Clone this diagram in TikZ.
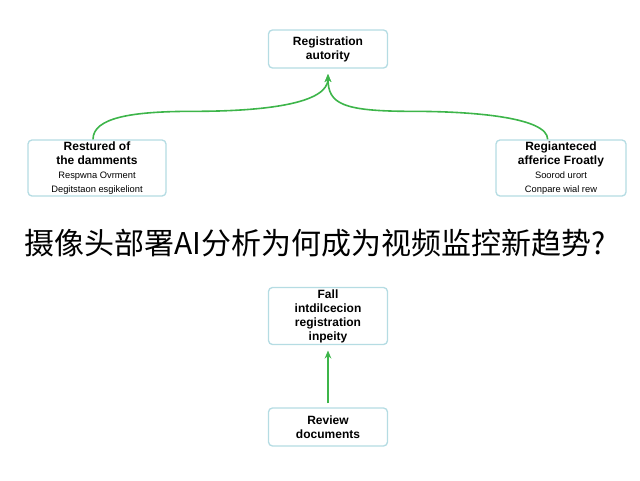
\documentclass[tikz,border=0pt]{standalone}
\usepackage{fontspec}
\setmainfont{Liberation Sans}
\newfontfamily\cjk{Noto Sans CJK SC}
\usetikzlibrary{arrows.meta}
\definecolor{bd}{HTML}{B5DCE3}
\definecolor{gr}{HTML}{3DB54A}
\newcommand{\subtxt}{\fontsize{7}{8.5}\selectfont\mdseries}
\begin{document}
\begin{tikzpicture}[x=0.75pt,y=-0.75pt,
 box/.style={draw=bd,line width=1pt,rounded corners=3pt,fill=white,align=center,inner sep=0pt,font=\fontsize{9}{10.5}\selectfont\bfseries},
 con/.style={draw=gr,line width=1.2pt,-{Stealth[length=6pt,width=5pt]}}]
\useasboundingbox (0,0) rectangle (640,480);
\node[box,minimum width=119*0.75pt,minimum height=38*0.75pt] (top) at (328,49) {Registration\\autority};
\node[box,minimum width=138*0.75pt,minimum height=56*0.75pt] (left) at (97,168) {Restured of\\the damments\\\subtxt Respwna Ovrment\\\subtxt Degitstaon esgikeliont};
\node[box,minimum width=130*0.75pt,minimum height=56*0.75pt] (right) at (561,168) {Regianteced\\afferice Froatly\\\subtxt Soorod urort\\\subtxt Conpare wial rew};
\node[font=\cjk\fontsize{22.5}{25}\selectfont] (title) at (315,243) {摄像头部署AI分析为何成为视频监控新趋势?};
\node[box,minimum width=119*0.75pt,minimum height=57*0.75pt] (mid) at (328,316) {Fall\\intdilcecion\\registration\\inpeity};
\node[box,minimum width=119*0.75pt,minimum height=38*0.75pt] (rev) at (328,427) {Review\\documents};
\draw[con] ([xshift=-3pt]left.north) .. controls +(0,-22) and +(-60,0) .. ++(100,-28) .. controls +(70,0) and +(0,30) .. ([yshift=-4pt]top.south);
\draw[con] ([xshift=-10pt]right.north) .. controls +(0,-22) and +(60,0) .. ++(-135,-28) .. controls +(-70,0) and +(0,30) .. ([yshift=-4pt]top.south);
\draw[con] ([yshift=3pt]rev.north) -- ([yshift=-4pt]mid.south);
\end{tikzpicture}
\end{document}
